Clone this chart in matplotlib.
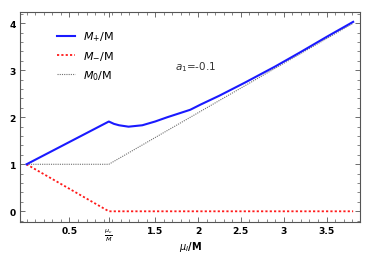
import matplotlib
matplotlib.use("Agg")
import matplotlib.pyplot as plt
from matplotlib.ticker import MultipleLocator

# values (x = mu_I/M)
mu_c = 0.96

mu_plus = [0.0, 0.96, 1.02, 1.08, 1.19, 1.35, 1.5, 1.64, 1.91, 2.03, 2.25, 2.55, 2.9, 3.19, 3.5, 3.81]
m_plus = [1.0, 1.91, 1.86, 1.83, 1.80, 1.83, 1.91, 2.00, 2.16, 2.27, 2.46, 2.74, 3.08, 3.38, 3.71, 4.03]

mu_minus = [0.0, 0.96, 3.81]
m_minus = [1.0, 0.0, 0.0]

mu_zero = [0.0, 0.96, 3.81]
m_zero = [1.0, 1.0, 4.0]

xticks = [0.5, mu_c, 1.5, 2, 2.5, 3, 3.5]
xticklabels = ["0.5", r"$\frac{\mu_c}{M}$", "1.5", "2", "2.5", "3", "3.5"]
yticks = [0, 1, 2, 3, 4]

fig = plt.figure(figsize=(3.74, 2.55), dpi=100)
ax = fig.add_axes([0.0535, 0.1243, 0.9091, 0.8237])

ax.plot(mu_zero, m_zero, color="#707070", lw=0.8, linestyle=(0, (1, 1)), label=r"$M_0$/M", zorder=2)
ax.plot(mu_minus, m_minus, color="#ff1a1a", lw=1.3, linestyle=(0, (1.2, 1.2)), label=r"$M_{-}$/M", zorder=3)
ax.plot(mu_plus, m_plus, color="#1a1aff", lw=1.5, label=r"$M_{+}$/M", zorder=4)

ax.set_xlim(-0.076, 3.89)
ax.set_ylim(-0.234, 4.234)

ax.set_xticks(xticks)
ax.set_xticklabels(xticklabels)
ax.set_yticks(yticks)
ax.xaxis.set_minor_locator(MultipleLocator(0.1))
ax.yaxis.set_minor_locator(MultipleLocator(0.2))

frame_col = "#555555"
for s in ax.spines.values():
    s.set_color(frame_col)
    s.set_linewidth(0.8)
ax.tick_params(which="both", direction="in", top=True, right=True, color=frame_col)
ax.tick_params(which="major", length=3.5, width=0.6, labelsize=6.6, pad=3)
ax.tick_params(which="minor", length=2, width=0.5)
for lab in ax.get_xticklabels() + ax.get_yticklabels():
    lab.set_fontweight("bold")

ax.set_xlabel(r"$\mu_I$/M", fontsize=7, fontweight="bold")
ax.xaxis.set_label_coords(0.5, -0.08)

# legend in M+, M-, M0 order
h, l = ax.get_legend_handles_labels()
order = [2, 1, 0]
ax.legend([h[i] for i in order], [l[i] for i in order], loc="upper left",
          bbox_to_anchor=(0.08, 0.965), frameon=False, fontsize=8,
          handlelength=1.6, handletextpad=0.7, labelspacing=0.55)

ax.text(1.97, 3.08, r"$a_1$=-0.1", fontsize=7.5, color="#333333", ha="center", va="center")

fig.savefig("out.png", dpi=100)
